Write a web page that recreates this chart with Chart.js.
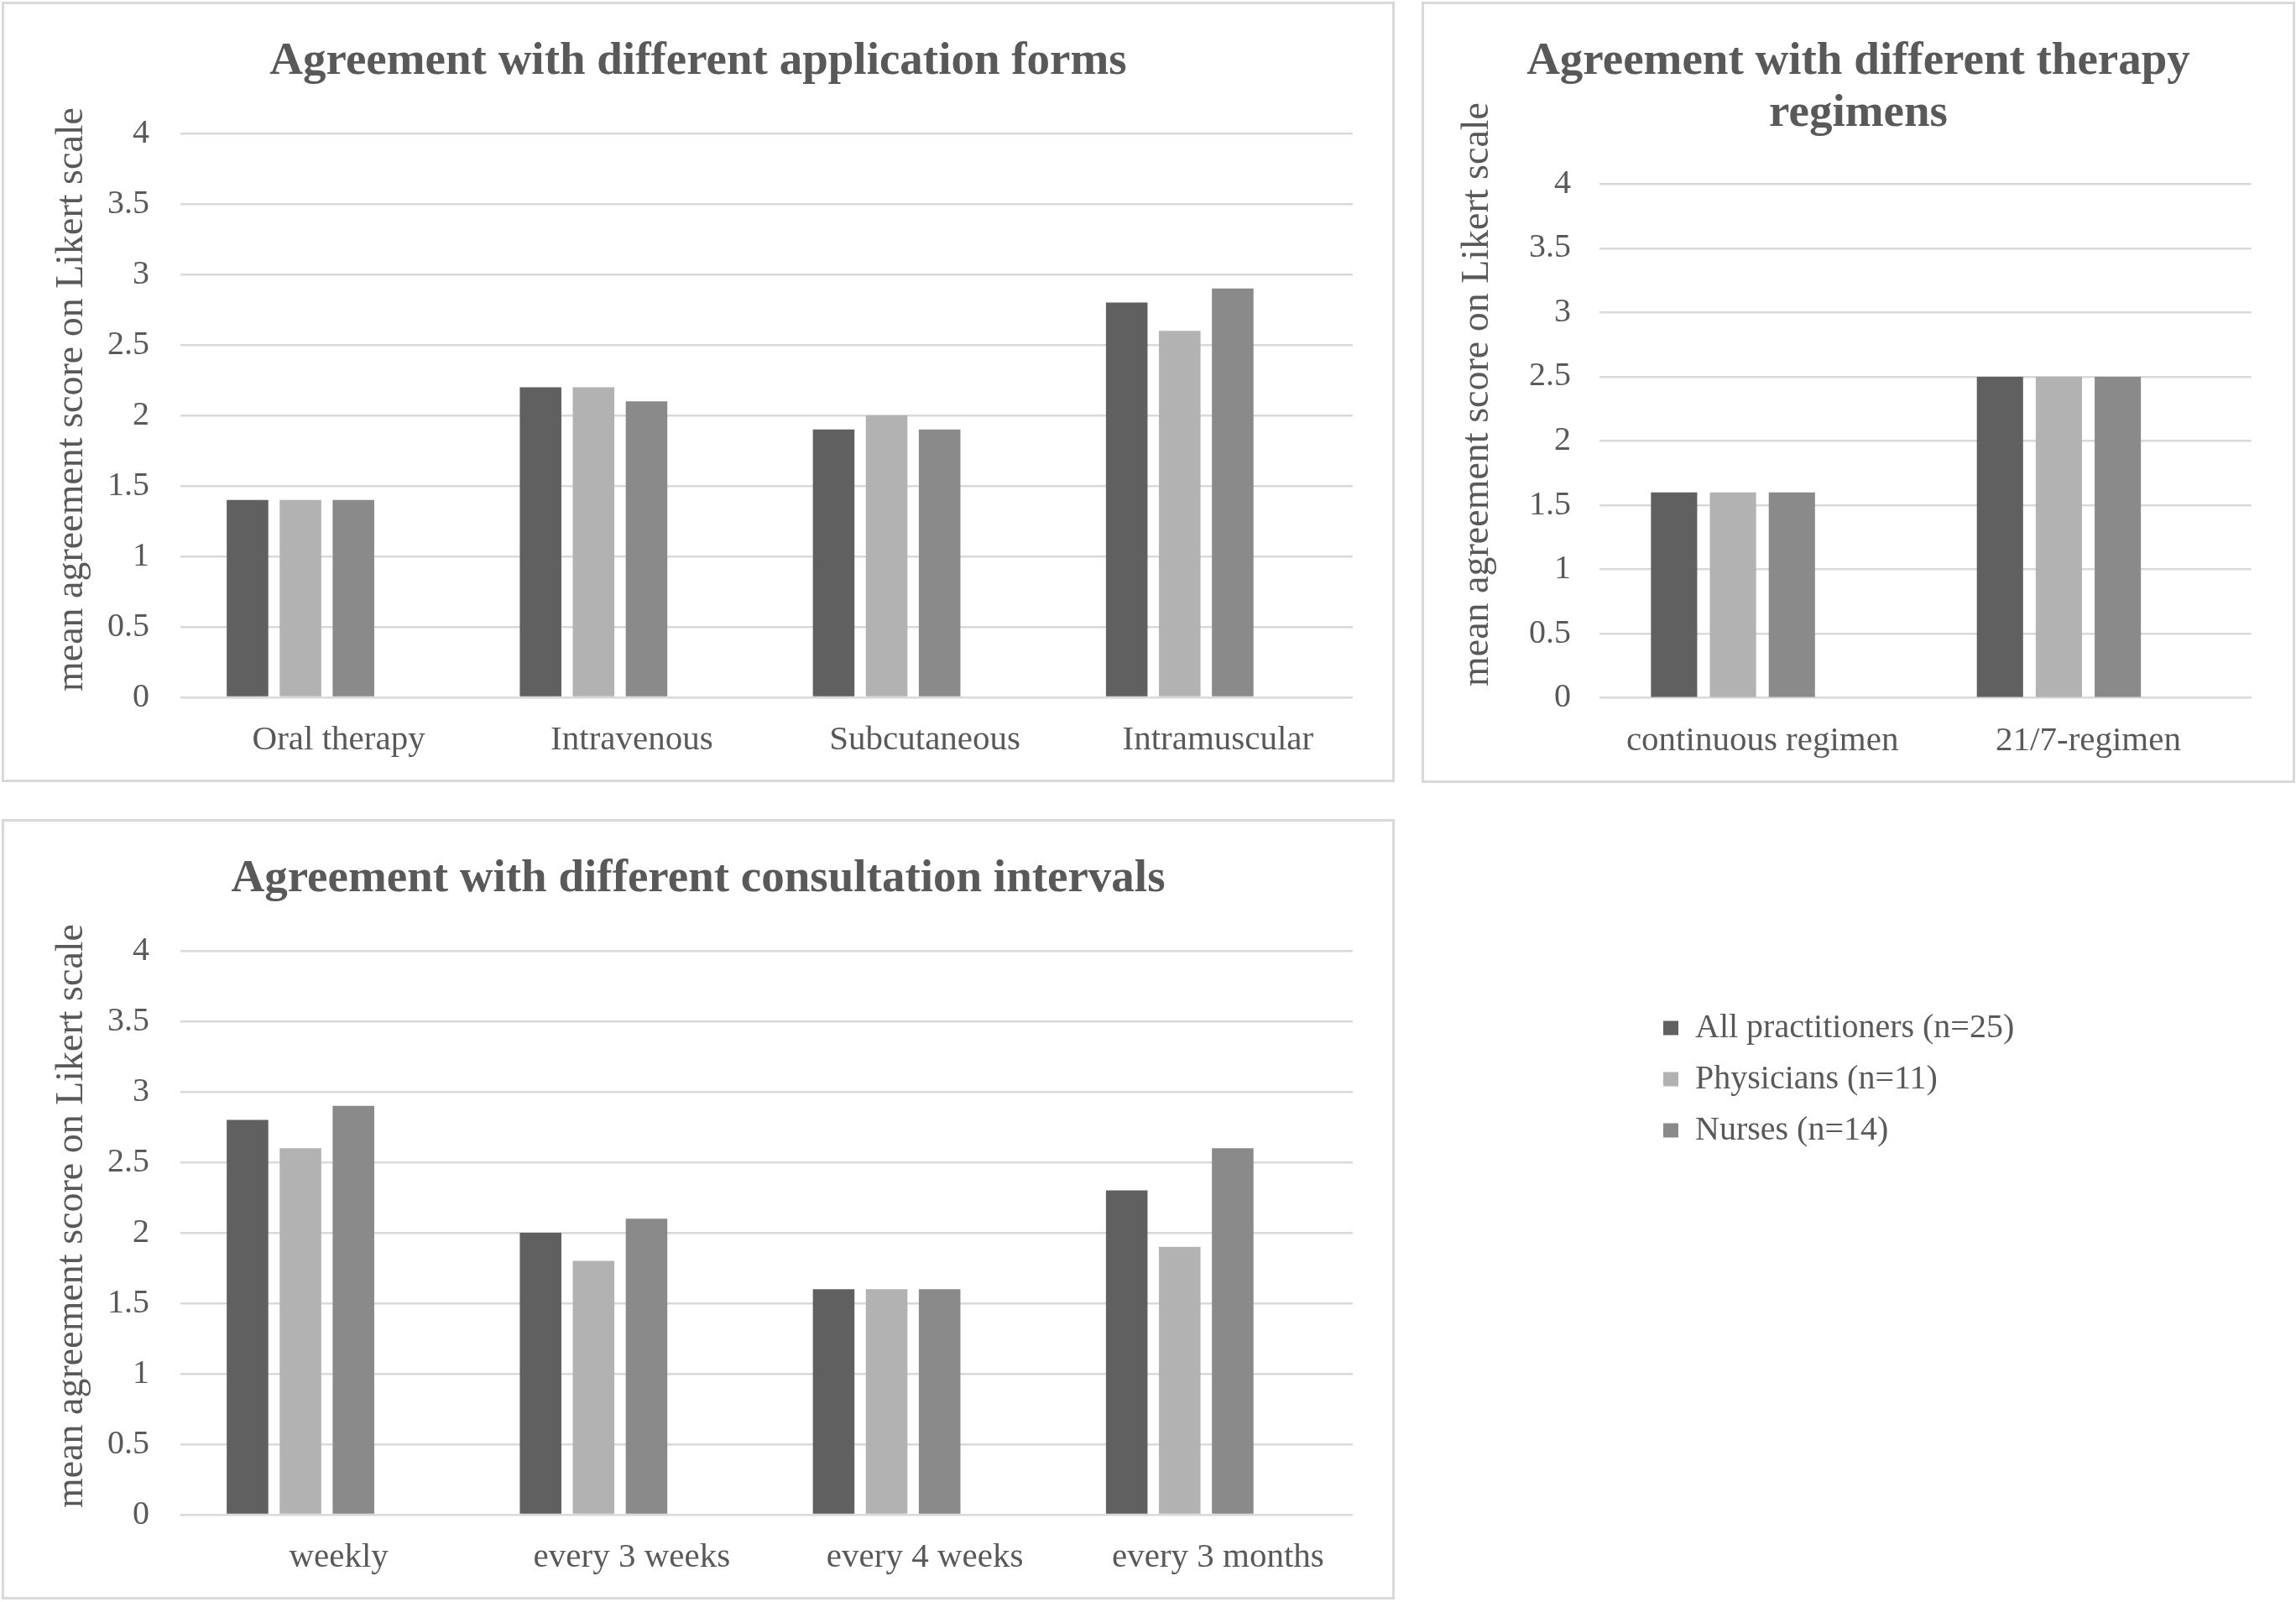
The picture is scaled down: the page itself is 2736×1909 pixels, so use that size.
<!DOCTYPE html>
<html><head><meta charset="utf-8">
<script src="https://cdn.jsdelivr.net/npm/chart.js@4.4.0/dist/chart.umd.min.js"></script>
<style>
html,body{margin:0;padding:0;background:#fff;width:2736px;height:1909px;overflow:hidden}
.panel{position:absolute;box-sizing:border-box;border:3px solid #d9d9d9;background:#fff}
.panel canvas{display:block}
</style></head><body>
<div class="panel" style="left:2px;top:2px;width:1660px;height:930px"><canvas id="c1"></canvas></div>
<div class="panel" style="left:1694px;top:2px;width:1041px;height:931px"><canvas id="c2"></canvas></div>
<div class="panel" style="left:2px;top:976px;width:1660px;height:930px"><canvas id="c3"></canvas></div>
<div style="position:absolute;left:1961px;top:1184px;width:480px;height:500px"><canvas id="c4"></canvas></div>
<script>
// ---- data ----
const seriesNames = ['All practitioners (n=25)', 'Physicians (n=11)', 'Nurses (n=14)'];
const seriesColors = ['#606060', '#b2b2b2', '#8a8a8a'];
const yTickLabels = ['0', '0.5', '1', '1.5', '2', '2.5', '3', '3.5', '4'];
const yAxisTitle = 'mean agreement score on Likert scale';

const formTitle = ['Agreement with different application forms'];
const formCategories = ['Oral therapy', 'Intravenous', 'Subcutaneous', 'Intramuscular'];
const formAll = [1.4, 2.2, 1.9, 2.8];
const formPhysicians = [1.4, 2.2, 2.0, 2.6];
const formNurses = [1.4, 2.1, 1.9, 2.9];

const regimenTitle = ['Agreement with different therapy', 'regimens'];
const regimenCategories = ['continuous regimen', '21/7-regimen'];
const regimenAll = [1.6, 2.5];
const regimenPhysicians = [1.6, 2.5];
const regimenNurses = [1.6, 2.5];

const intervalTitle = ['Agreement with different consultation intervals'];
const intervalCategories = ['weekly', 'every 3 weeks', 'every 4 weeks', 'every 3 months'];
const intervalAll = [2.8, 2.0, 1.6, 2.3];
const intervalPhysicians = [2.6, 1.8, 1.6, 1.9];
const intervalNurses = [2.9, 2.1, 1.6, 2.6];

// ---- styling ----
const FONT = 'Liberation Serif';
const TXT = '#595959';
const GRID = '#d9d9d9';

const yTitlePlugin = {
  id: 'yTitle',
  afterDraw(chart, args, opts) {
    const ctx = chart.ctx;
    ctx.save();
    ctx.translate(opts.x, opts.y);
    ctx.rotate(-Math.PI / 2);
    ctx.font = opts.size + 'px "' + FONT + '"';
    ctx.fillStyle = TXT;
    ctx.textAlign = 'center';
    ctx.textBaseline = 'alphabetic';
    ctx.fillText(opts.text, 0, 0);
    ctx.restore();
  }
};

function makeChart(id, title, cats, all, phys, nurses, L) {
  const values = [all, phys, nurses];
  const datasets = values.map((v, i) => ({
    label: seriesNames[i], data: v, backgroundColor: seriesColors[i], borderWidth: 0
  }));
  // empty fourth series slot (as in the original spreadsheet chart)
  datasets.push({ label: '', data: cats.map(() => null), backgroundColor: 'rgba(0,0,0,0)' });
  return new Chart(document.getElementById(id), {
    type: 'bar',
    data: { labels: cats, datasets },
    plugins: [yTitlePlugin],
    options: {
      responsive: true, maintainAspectRatio: false, animation: false,
      devicePixelRatio: 1,
      categoryPercentage: 0.723, barPercentage: 0.785,
      layout: { padding: { left: L.side, right: L.side, top: 0, bottom: 0 } },
      plugins: {
        legend: { display: false },
        tooltip: { enabled: false },
        title: {
          display: true, text: title, color: TXT,
          font: { family: FONT, size: 55, weight: 'bold', lineHeight: L.titleLH },
          padding: { top: L.titleTop, bottom: L.titleBottom }
        },
        yTitle: { text: yAxisTitle, x: L.yTitleX, y: L.yTitleY, size: 46 }
      },
      scales: {
        x: {
          grid: { display: false }, border: { display: false },
          ticks: { color: TXT, font: { family: FONT, size: 41 }, padding: 19, labelOffset: L.labelOffset, maxRotation: 0, autoSkip: false },
          afterFit(s) { s.height = L.xHeight; }
        },
        y: {
          min: 0, max: 4,
          grid: { color: GRID, lineWidth: 2.5, drawTicks: false },
          border: { display: false },
          ticks: { stepSize: 0.5, color: TXT, font: { family: FONT, size: 40 }, padding: L.tickPad,
                   callback: (v, i) => yTickLabels[i] },
          afterFit(s) { s.width = L.yWidth; }
        }
      }
    }
  });
}

makeChart('c1', formTitle, formCategories, formAll, formPhysicians, formNurses,
  { side: 47, titleLH: 1.1, titleTop: 38.5, titleBottom: 55, xHeight: 98, yWidth: 163, tickPad: 37, labelOffset: 14, yTitleX: 93, yTitleY: 471 });
makeChart('c2', regimenTitle, regimenCategories, regimenAll, regimenPhysicians, regimenNurses,
  { side: 49.3, titleLH: 62 / 55, titleTop: 38, titleBottom: 52.3, xHeight: 98.3, yWidth: 159.7, tickPad: 34, labelOffset: 0, yTitleX: 76, yTitleY: 465 });
makeChart('c3', intervalTitle, intervalCategories, intervalAll, intervalPhysicians, intervalNurses,
  { side: 47, titleLH: 1.1, titleTop: 38.5, titleBottom: 55, xHeight: 98, yWidth: 163, tickPad: 37, labelOffset: 14, yTitleX: 93, yTitleY: 470 });

// legend
new Chart(document.getElementById('c4'), {
  type: 'bar',
  data: { labels: [], datasets: seriesNames.map((n, i) => ({ label: n, data: [], backgroundColor: seriesColors[i], borderWidth: 0 })) },
  options: {
    responsive: true, maintainAspectRatio: false, animation: false, devicePixelRatio: 1,
    layout: { padding: 0 },
    scales: { x: { display: false }, y: { display: false } },
    plugins: {
      tooltip: { enabled: false },
      legend: {
        position: 'top', align: 'start',
        labels: { boxWidth: 18, boxHeight: 17, padding: 21, color: TXT, font: { family: FONT, size: 40 } }
      }
    }
  }
});
</script>
</body></html>
